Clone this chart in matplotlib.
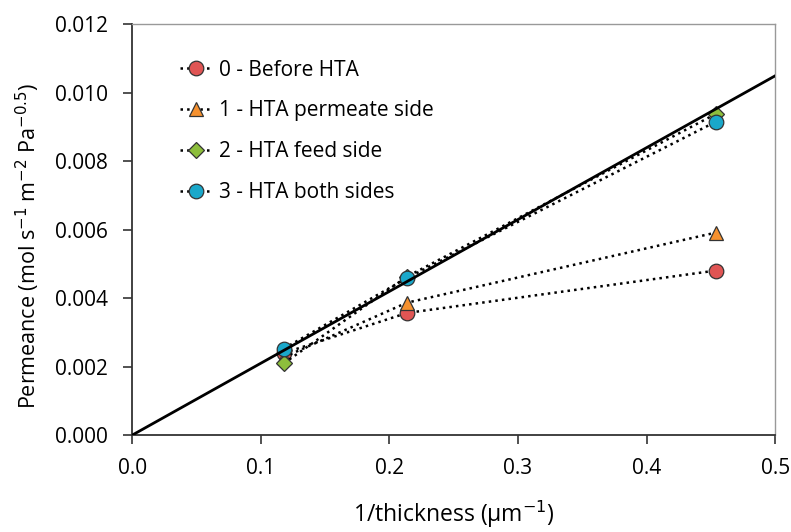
import matplotlib
matplotlib.use("Agg")
import matplotlib.pyplot as plt
from matplotlib.ticker import FormatStrFormatter

plt.rcParams["font.family"] = ["Open Sans", "DejaVu Sans"]

# data
inv_thickness = [0.118, 0.2136, 0.454]
before_hta = [0.00240, 0.00357, 0.00481]
hta_permeate = [0.00228, 0.00387, 0.00592]
hta_feed = [0.00210, 0.00463, 0.00939]
hta_both = [0.00253, 0.00459, 0.00916]
fit_x = [0.0, 0.5]
fit_y = [0.0, 0.0105]

labels = ["0 - Before HTA", "1 - HTA permeate side", "2 - HTA feed side", "3 - HTA both sides"]
series = [before_hta, hta_permeate, hta_feed, hta_both]
markers = ["o", "^", "D", "o"]
colors = ["#E05554", "#F6912F", "#8DBE3C", "#1AA8CA"]
msizes = [10.5, 10.5, 8, 10.5]

fig = plt.figure(figsize=(7.91, 5.32), dpi=100)
ax = fig.add_axes([0.167, 0.182, 0.813, 0.772])

ax.plot(fit_x, fit_y, color="black", lw=2, zorder=5)
for y, lab, m, c, ms in zip(series, labels, markers, colors, msizes):
    ax.plot(inv_thickness, y, linestyle=":", color="black", lw=1.8,
            marker=m, markersize=ms, markerfacecolor=c,
            markeredgecolor="#333333", markeredgewidth=0.9, label=lab, zorder=3)

ax.set_xlim(0, 0.5)
ax.set_ylim(0, 0.012)
ax.set_xticks([0.0, 0.1, 0.2, 0.3, 0.4, 0.5])
ax.set_yticks([0.0, 0.002, 0.004, 0.006, 0.008, 0.010, 0.012])
ax.xaxis.set_major_formatter(FormatStrFormatter("%.1f"))
ax.yaxis.set_major_formatter(FormatStrFormatter("%.3f"))
ax.tick_params(direction="out", length=6.5, width=1.2, labelsize=15, color="#333333")
ax.tick_params(axis="x", pad=10)
ax.tick_params(axis="y", pad=11)

for s in ["left", "bottom"]:
    ax.spines[s].set_color("#333333")
    ax.spines[s].set_linewidth(1.3)
for s in ["top", "right"]:
    ax.spines[s].set_color("#999999")
    ax.spines[s].set_linewidth(1.0)

ax.set_xlabel("1/thickness (\u00b5m$^{-1}$)", fontsize=16.5, labelpad=14)
ax.set_ylabel("Permeance (mol s$^{-1}$ m$^{-2}$ Pa$^{-0.5}$)", fontsize=15.5)
ax.yaxis.set_label_coords(-0.14, 0.462)

ax.legend(loc="upper left", bbox_to_anchor=(0.045, 0.96), frameon=False, fontsize=15,
          handlelength=1.6, handletextpad=0.3, labelspacing=0.95)

fig.savefig("out.png", dpi=100)
